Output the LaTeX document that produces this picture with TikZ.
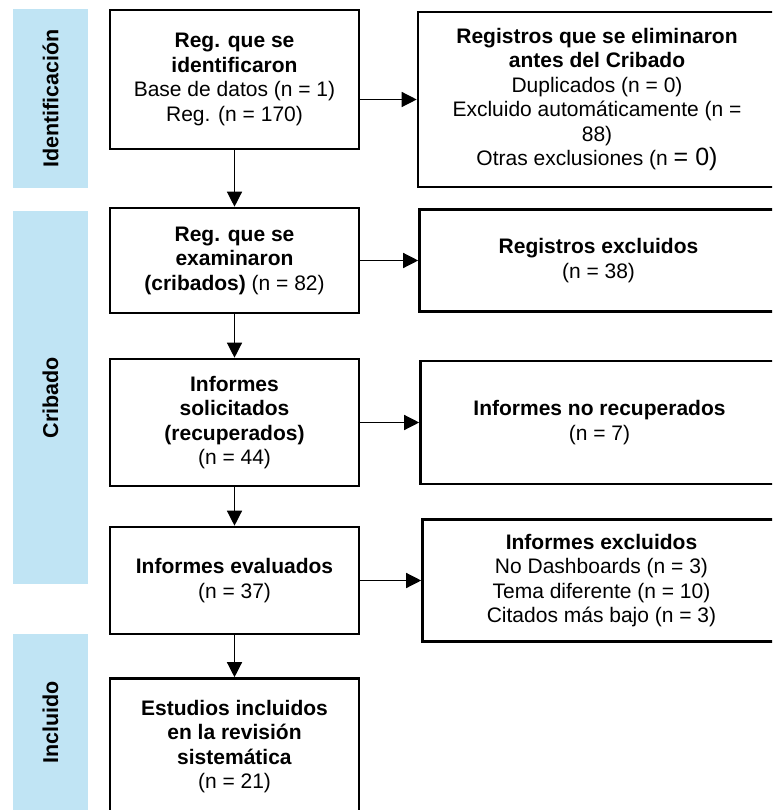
\documentclass[tikz,border=0pt]{standalone}
\usepackage{fontspec}
\setmainfont{Liberation Sans}
\usepackage{tikz}
\usetikzlibrary{arrows.meta, positioning}
\definecolor{phaseblue}{RGB}{192,228,244}

\begin{document}
\begin{tikzpicture}[x=1pt, y=-1pt, on grid,
	box/.style={rectangle, draw, line width=2.6pt, minimum width=249pt, inner sep=0pt, align=center, font=\fontsize{21}{24.5}\selectfont},
	side/.style={box, minimum width=358pt},
	phase/.style={rectangle, fill=phaseblue, minimum width=75pt, inner sep=0pt, font=\fontsize{21.5}{24}\selectfont\bfseries},
	->, >={Triangle[length=15pt, width=15pt]}, line width=1.3pt]

\useasboundingbox (0,0) rectangle (772,810);
\clip (0,0) rectangle (772,810);

% Phases
\node[phase, minimum height=179pt] (P1) at (50.5,98.5) {\rotatebox{90}{Identificación}};
\node[phase, minimum height=373pt, below=299pt of P1] (P2) {\rotatebox{90}{Cribado}};
\node[phase, minimum height=177pt, below=325pt of P2] (P3) {\rotatebox{90}{Incluido}};

% Nodes
\node[box, minimum height=139pt] (N1) at (234.5,79.5) {%
	\textbf{Reg. que se}\\
	\textbf{identificaron}\\
	Base de datos (n = 1)\\
	Reg. (n = 170)};
\node[box, minimum height=105pt, below=181pt of N1] (N2) {%
	\textbf{Reg. que se}\\
	\textbf{examinaron}\\
	\textbf{(cribados)} (n = 82)};
\node[box, minimum height=127pt, below=162pt of N2] (N3) {%
	\textbf{Informes}\\
	\textbf{solicitados}\\
	\textbf{(recuperados)}\\
	(n = 44)};
\node[box, minimum height=107pt, below=158pt of N3] (N4) {%
	\textbf{Informes evaluados}\\
	(n = 37)};
\node[box, minimum height=136pt, below=166pt of N4] (N5) {%
	\textbf{Estudios incluidos}\\
	\textbf{en la revisión}\\
	\textbf{sistemática}\\
	(n = 21)};

\node[side, minimum height=175pt, below right=20pt and 362.5pt of N1] (X1) {%
	\textbf{Registros que se eliminaron}\\
	\textbf{antes del Cribado}\\
	Duplicados (n = 0)\\
	Excluido automáticamente (n =\\
	88)\\
	Otras exclusiones (n {\fontsize{25}{24.5}\selectfont = 0)}};
\node[side, minimum height=102pt, right=364pt of N2] (X2) {%
	\textbf{Registros excluidos}\\
	(n = 38)};
\node[side, minimum height=123pt, right=365pt of N3] (X3) {%
	\textbf{Informes no recuperados}\\
	(n = 7)};
\node[side, minimum height=122pt, right=367pt of N4] (X4) {%
	\textbf{Informes excluidos}\\
	No Dashboards (n = 3)\\
	Tema diferente (n = 10)\\
	Citados más bajo (n = 3)};

% Arrows
\draw (N1) -- (N2);
\draw (N2) -- (N3);
\draw (N3) -- (N4);
\draw (N4) -- (N5);
\draw (N1.east |- X1.west) -- (X1);
\draw (N2.east) -- (N2.east -| X2.west);
\draw (N3.east) -- (N3.east -| X3.west);
\draw (N4.east) -- (N4.east -| X4.west);
\end{tikzpicture}
\end{document}
